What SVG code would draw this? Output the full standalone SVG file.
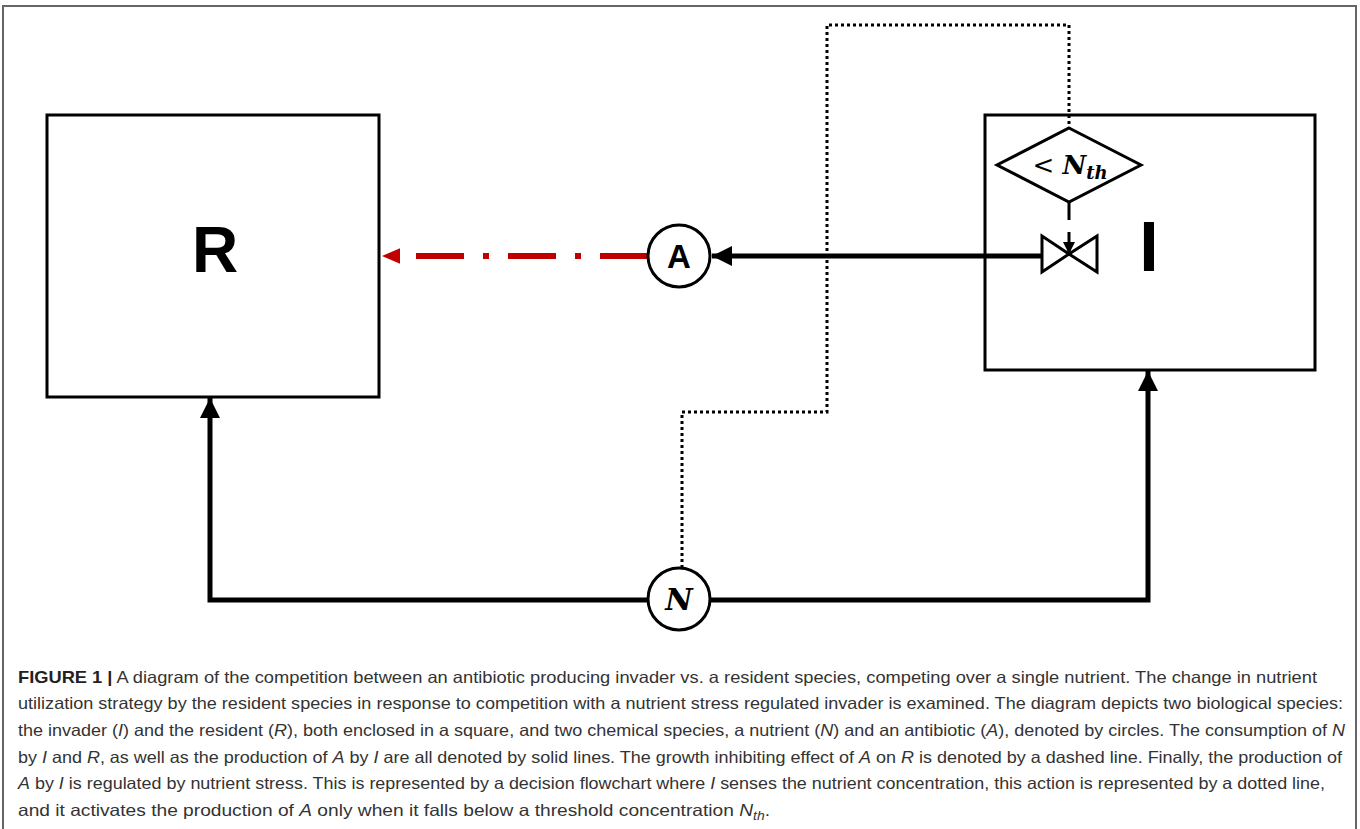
<svg xmlns="http://www.w3.org/2000/svg" width="1360" height="829" viewBox="0 0 1360 829">
<defs>
<style>
.box{fill:#fff;stroke:#000;stroke-width:3}
.solid{fill:none;stroke:#000;stroke-width:5}
.dot{fill:none;stroke:#000;stroke-width:3;stroke-dasharray:3 3}
.red{fill:none;stroke:#c00000;stroke-width:6;stroke-dasharray:48 19 6 19}
.cap{font-family:"Liberation Sans",Arial,sans-serif;font-size:16.5px;fill:#333}
.it{font-style:italic}
</style>
<marker id="ah" viewBox="0 0 10 10" refX="10" refY="5" markerWidth="4" markerHeight="4" orient="auto" markerUnits="strokeWidth">
<path d="M0,0 L10,5 L0,10 Z" fill="#000"/>
</marker>
<marker id="ahr" viewBox="0 0 10 10" refX="10" refY="5" markerWidth="3" markerHeight="2.6" orient="auto" markerUnits="strokeWidth" preserveAspectRatio="none">
<path d="M0,0 L10,5 L0,10 Z" fill="#c00000"/>
</marker>
</defs>
<rect width="1360" height="829" fill="#fff"/>
<path d="M3,840 V6 H1356 V840" fill="none" stroke="#666" stroke-width="2"/>

<g id="node-R">
<rect class="box" x="47" y="115" width="332" height="282"/>
<text x="215" y="272" text-anchor="middle" font-family="Liberation Sans,Arial,sans-serif" font-weight="bold" font-size="64">R</text>
</g>

<g id="node-I">
<rect class="box" x="985" y="115" width="330" height="255"/>
<text x="1149" y="271" text-anchor="middle" font-family="Liberation Sans,Arial,sans-serif" font-weight="bold" font-size="70">I</text>
</g>

<g id="connectors">
<path class="dot" d="M682,568 V412 H827 V25 H1069 V128"/>
<path class="red" d="M648,256 H382" marker-end="url(#ahr)"/>
<path class="solid" d="M1042,256 H712" marker-end="url(#ah)"/>
<path class="solid" d="M648,600 H210 V398" marker-end="url(#ah)"/>
<path class="solid" d="M710,600 H1148 V371" marker-end="url(#ah)"/>
<path d="M1069,202 V220" stroke="#000" stroke-width="3" fill="none"/>
<path d="M1069,232 V254" stroke="#000" stroke-width="3" fill="none" marker-end="url(#ah)"/>
</g>

<g id="node-threshold">
<path d="M1069,128 L1141,165 L1069,202 L997,165 Z" fill="#fff" stroke="#000" stroke-width="3"/>
<text x="1070" y="174" text-anchor="middle" font-family="DejaVu Serif,serif" font-size="26"><tspan>&lt; </tspan><tspan font-style="italic" font-weight="bold">N</tspan><tspan font-style="italic" font-weight="bold" font-size="18" dy="5">th</tspan></text>
</g>

<g id="node-valve">
<path d="M1042,236 L1042,272 L1069,254 Z M1097,236 L1097,272 L1069,254 Z" fill="#fff" stroke="#000" stroke-width="3" stroke-linejoin="miter"/>
</g>

<g id="node-A">
<circle cx="679" cy="256" r="31" fill="#fff" stroke="#000" stroke-width="3"/>
<text x="679" y="268" text-anchor="middle" font-family="Liberation Sans,Arial,sans-serif" font-weight="bold" font-size="33">A</text>
</g>

<g id="node-N">
<circle cx="679" cy="599" r="31" fill="#fff" stroke="#000" stroke-width="3"/>
<text x="679" y="610" text-anchor="middle" font-family="DejaVu Serif,serif" font-style="italic" font-weight="bold" font-size="30">N</text>
</g>

<g id="caption" class="cap">
<text x="18" y="683" textLength="1299" lengthAdjust="spacingAndGlyphs"><tspan font-weight="bold" fill="#222">FIGURE 1 |</tspan> A diagram of the competition between an antibiotic producing invader vs. a resident species, competing over a single nutrient. The change in nutrient</text>
<text x="18" y="709" textLength="1325" lengthAdjust="spacingAndGlyphs">utilization strategy by the resident species in response to competition with a nutrient stress regulated invader is examined. The diagram depicts two biological species:</text>
<text x="18" y="736" textLength="1327" lengthAdjust="spacingAndGlyphs">the invader (<tspan class="it">I</tspan>) and the resident (<tspan class="it">R</tspan>), both enclosed in a square, and two chemical species, a nutrient (<tspan class="it">N</tspan>) and an antibiotic (<tspan class="it">A</tspan>), denoted by circles. The consumption of <tspan class="it">N</tspan></text>
<text x="18" y="763" textLength="1324" lengthAdjust="spacingAndGlyphs">by <tspan class="it">I</tspan> and <tspan class="it">R</tspan>, as well as the production of <tspan class="it">A</tspan> by <tspan class="it">I</tspan> are all denoted by solid lines. The growth inhibiting effect of <tspan class="it">A</tspan> on <tspan class="it">R</tspan> is denoted by a dashed line. Finally, the production of</text>
<text x="18" y="789" textLength="1307" lengthAdjust="spacingAndGlyphs"><tspan class="it">A</tspan> by <tspan class="it">I</tspan> is regulated by nutrient stress. This is represented by a decision flowchart where <tspan class="it">I</tspan> senses the nutrient concentration, this action is represented by a dotted line,</text>
<text x="18" y="816" textLength="752" lengthAdjust="spacingAndGlyphs">and it activates the production of <tspan class="it">A</tspan> only when it falls below a threshold concentration <tspan class="it">N</tspan><tspan class="it" font-size="12" dy="4">th</tspan><tspan dy="-4">.</tspan></text>
</g>
</svg>
